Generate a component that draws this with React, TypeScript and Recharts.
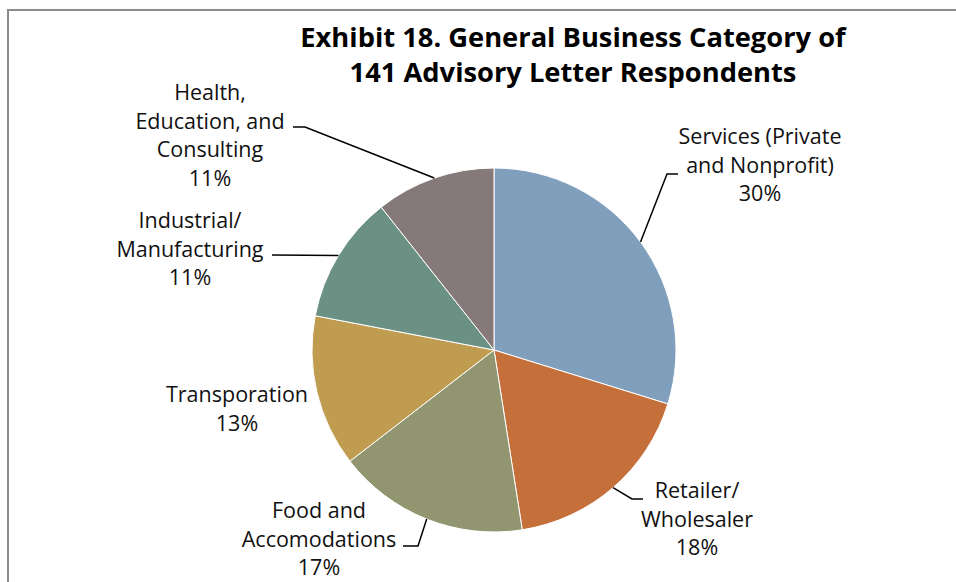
import React from 'react';
import { PieChart, Pie, Cell } from 'recharts';

const categories = [
  'Services (Private|and Nonprofit)',
  'Retailer/|Wholesaler',
  'Food and|Accomodations',
  'Transporation',
  'Industrial/|Manufacturing',
  'Health,|Education, and|Consulting',
];
const respondents = [42, 25, 24, 19, 16, 15];
const percentLabels = ['30%', '18%', '17%', '13%', '11%', '11%'];
const titleLines = ['Exhibit 18. General Business Category of', '141 Advisory Letter Respondents'];

const colors = ['#809FBC', '#C5703A', '#919570', '#BF9C50', '#6B9185', '#857A79'];

// label placement relative to pie center: text center x, first baseline y, leader elbow points
const labelLayout = [
  { tx: 266, ty: -206, pts: [[173, -176], [184, -176]] },
  { tx: 203, ty: 148, pts: [[138, 149], [149, 149]] },
  { tx: -175, ty: 168, pts: [[-76, 196], [-91, 196]] },
  { tx: -257, ty: 52, pts: [] },
  { tx: -304, ty: -122, pts: [[-222, -95]] },
  { tx: -284, ty: -250, pts: [[-189, -223], [-201, -223]] },
];

const data = categories.map((c, i) => ({ name: c, value: respondents[i], pct: percentLabels[i] }));

const FONT = '"Open Sans", Lato, sans-serif';
const LINE_H = 28.5;
const RADIAN = Math.PI / 180;

const renderLabel = (props: any) => {
  const { cx, cy, midAngle, outerRadius, index } = props;
  const lay = labelLayout[index];
  const ex = cx + outerRadius * Math.cos(-midAngle * RADIAN);
  const ey = cy + outerRadius * Math.sin(-midAngle * RADIAN);
  const lines = [...data[index].name.split('|'), data[index].pct];
  const pts = lay.pts.length
    ? [[ex, ey], ...lay.pts.map(([dx, dy]) => [cx + dx, cy + dy])]
    : [];
  return (
    <g key={`lbl-${index}`}>
      {pts.length > 0 && (
        <polyline
          points={pts.map((p) => p.join(',')).join(' ')}
          fill="none"
          stroke="#000"
          strokeWidth={1.5}
        />
      )}
      <text
        x={cx + lay.tx}
        y={cy + lay.ty}
        textAnchor="middle"
        fontFamily={FONT}
        fontSize={21.5}
        fill="#111"
      >
        {lines.map((l, k) => (
          <tspan key={k} x={cx + lay.tx} y={cy + lay.ty + k * LINE_H}>
            {l}
          </tspan>
        ))}
      </text>
    </g>
  );
};

export default function App() {
  return (
    <div style={{ position: 'fixed', left: 0, top: 0, width: 956, height: 582, background: '#fff', overflow: 'hidden' }}>
      <div
        style={{
          position: 'absolute',
          left: 7,
          top: 9,
          width: 1000,
          height: 700,
          borderLeft: '2px solid #8c8c8c',
          borderTop: '2px solid #8c8c8c',
        }}
      />
      <div
        style={{
          position: 'absolute',
          left: 273,
          top: 19,
          width: 600,
          textAlign: 'center',
          fontFamily: FONT,
          fontWeight: 'bold',
          fontSize: 27.3,
          lineHeight: '35px',
          color: '#000',
        }}
      >
        {titleLines.map((t, i) => (
          <div key={i}>{t}</div>
        ))}
      </div>
      <div style={{ position: 'absolute', left: 0, top: 0 }}>
        <PieChart width={956} height={582}>
          <Pie
            data={data}
            dataKey="value"
            nameKey="name"
            cx={489}
            cy={345}
            outerRadius={182}
            startAngle={90}
            endAngle={-270}
            stroke="#fff"
            strokeWidth={1}
            label={renderLabel}
            labelLine={false}
            isAnimationActive={false}
          >
            {data.map((d, i) => (
              <Cell key={d.name} fill={colors[i]} />
            ))}
          </Pie>
        </PieChart>
      </div>
    </div>
  );
}
